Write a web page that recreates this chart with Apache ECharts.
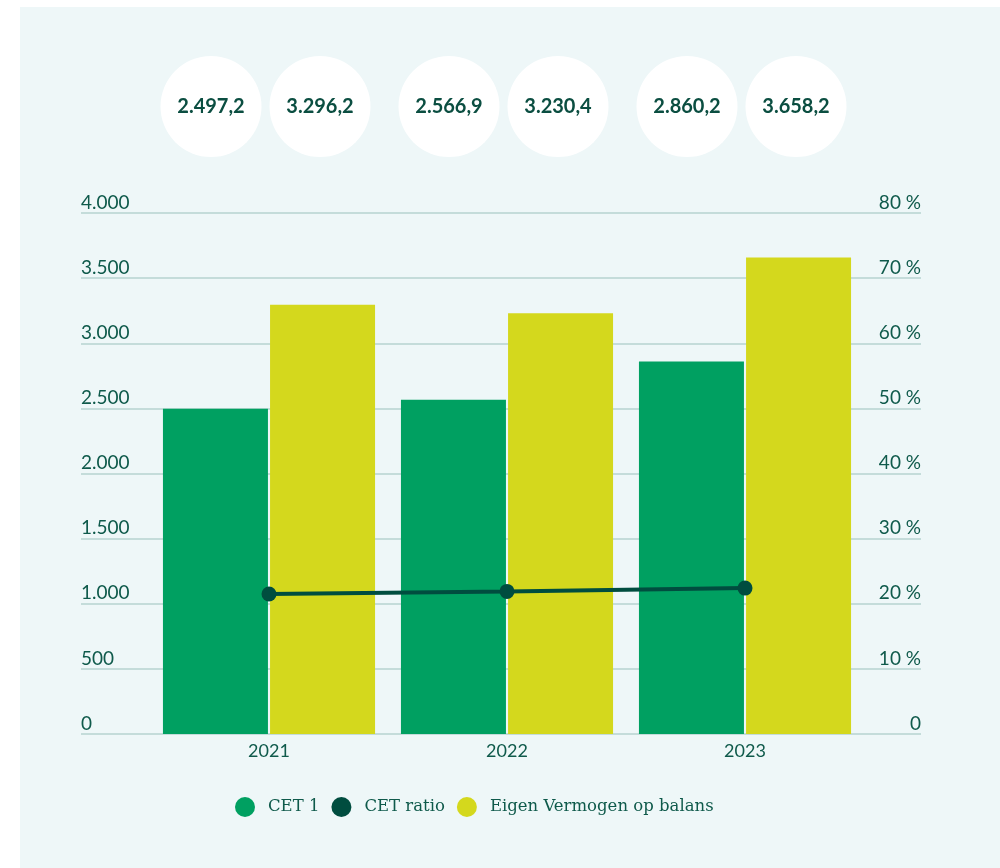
<!DOCTYPE html>
<html>
<head>
<meta charset="utf-8">
<script src="https://cdn.jsdelivr.net/npm/echarts@6/dist/echarts.min.js"></script>
<style>
  html, body { margin: 0; padding: 0; background: #ffffff; }
  #panel { position: absolute; left: 20px; top: 7px; width: 980px; height: 861px; background: #eef7f8; }
  #chart { position: absolute; left: 0; top: 0; width: 1000px; height: 868px; }
</style>
</head>
<body>
<div id="panel"></div>
<div id="chart"></div>
<script>
const years = ['2021', '2022', '2023'];
const cet1 = [2497.2, 2566.9, 2860.2];
const eigenVermogen = [3296.2, 3230.4, 3658.2];
const cetRatio = [21.5, 21.9, 22.4];
const leftAxisMax = 4000;
const leftAxisStep = 500;
const rightAxisMax = 80;
const rightAxisStep = 10;
const seriesNames = ['CET 1', 'CET ratio', 'Eigen Vermogen op balans'];

const textColor = '#0f5a4b';
const cGreen = '#00a061';
const cDark = '#004d3f';
const cYellow = '#d4d81d';
const gridColor = '#c4dcda';

function nl(v, dec) {
  const s = v.toFixed(dec);
  const parts = s.split('.');
  const intPart = parts[0].replace(/\B(?=(\d{3})+(?!\d))/g, '.');
  return parts.length > 1 ? intPart + ',' + parts[1] : intPart;
}

const chart = echarts.init(document.getElementById('chart'), null, { renderer: 'canvas' });

const circleLabel = {
  show: true,
  position: 'inside',
  color: '#0b4e41',
  fontFamily: 'Lato',
  fontWeight: 'bold',
  fontSize: 20,
  formatter: p => nl(p.value[2], 1)
};

chart.setOption({
  animation: false,
  grid: [
    { left: 81, right: 79, top: 213, bottom: 134 },
    { left: 150, right: 136, top: 213, bottom: 134 },
    { left: 150, right: 136, top: 56, height: 101 }
  ],
  legend: {
    data: seriesNames,
    icon: 'circle',
    itemWidth: 20,
    itemHeight: 20,
    itemGap: 12,
    left: 230,
    top: 792,
    textStyle: { fontFamily: 'DejaVu Serif', fontSize: 16.5, color: textColor, padding: [0, 0, 0, 8] }
  },
  xAxis: [
    { gridIndex: 0, type: 'category', data: years, show: false },
    {
      gridIndex: 1, type: 'category', data: years,
      axisLine: { show: false }, axisTick: { show: false },
      axisLabel: { color: textColor, fontFamily: 'Lato', fontSize: 18, margin: 8 }
    },
    { gridIndex: 2, type: 'category', data: years, show: false }
  ],
  yAxis: [
    {
      gridIndex: 0, type: 'value', position: 'left', min: 0, max: leftAxisMax, interval: leftAxisStep,
      axisLine: { show: false }, axisTick: { show: false },
      axisLabel: {
        inside: true, margin: 0, verticalAlign: 'bottom', padding: [0, 0, 1, 0],
        color: textColor, fontFamily: 'Lato', fontSize: 19,
        formatter: v => nl(v, 0)
      },
      splitLine: { show: true, lineStyle: { color: gridColor, width: 2 } }
    },
    {
      gridIndex: 0, type: 'value', position: 'right', min: 0, max: rightAxisMax, interval: rightAxisStep,
      axisLine: { show: false }, axisTick: { show: false },
      axisLabel: {
        inside: true, margin: 0, verticalAlign: 'bottom', padding: [0, 0, 1, 0],
        color: textColor, fontFamily: 'Lato', fontSize: 19,
        formatter: v => (v === 0 ? '0' : v + ' %')
      },
      splitLine: { show: false }
    },
    { gridIndex: 1, type: 'value', min: 0, max: leftAxisMax, show: false },
    { gridIndex: 1, type: 'value', min: 0, max: rightAxisMax, show: false },
    { gridIndex: 2, type: 'value', min: -1, max: 1, show: false }
  ],
  series: [
    {
      name: seriesNames[0], type: 'bar', xAxisIndex: 1, yAxisIndex: 2,
      data: cet1, barWidth: 105, barGap: '2%',
      itemStyle: { color: cGreen }
    },
    {
      name: seriesNames[2], type: 'bar', xAxisIndex: 1, yAxisIndex: 2,
      data: eigenVermogen, barWidth: 105, barGap: '2%',
      itemStyle: { color: cYellow }
    },
    {
      name: seriesNames[1], type: 'line', xAxisIndex: 1, yAxisIndex: 3,
      data: cetRatio, symbol: 'circle', symbolSize: 15, z: 5,
      lineStyle: { color: cDark, width: 4 },
      itemStyle: { color: cDark }
    },
    {
      type: 'scatter', xAxisIndex: 2, yAxisIndex: 4, silent: true,
      data: cet1.map((v, i) => [i, 0, v]),
      symbol: 'circle', symbolSize: 101, symbolOffset: [-58, 0],
      itemStyle: { color: '#ffffff', opacity: 1 },
      label: circleLabel
    },
    {
      type: 'scatter', xAxisIndex: 2, yAxisIndex: 4, silent: true,
      data: eigenVermogen.map((v, i) => [i, 0, v]),
      symbol: 'circle', symbolSize: 101, symbolOffset: [51, 0],
      itemStyle: { color: '#ffffff', opacity: 1 },
      label: circleLabel
    }
  ]
});
</script>
</body>
</html>
